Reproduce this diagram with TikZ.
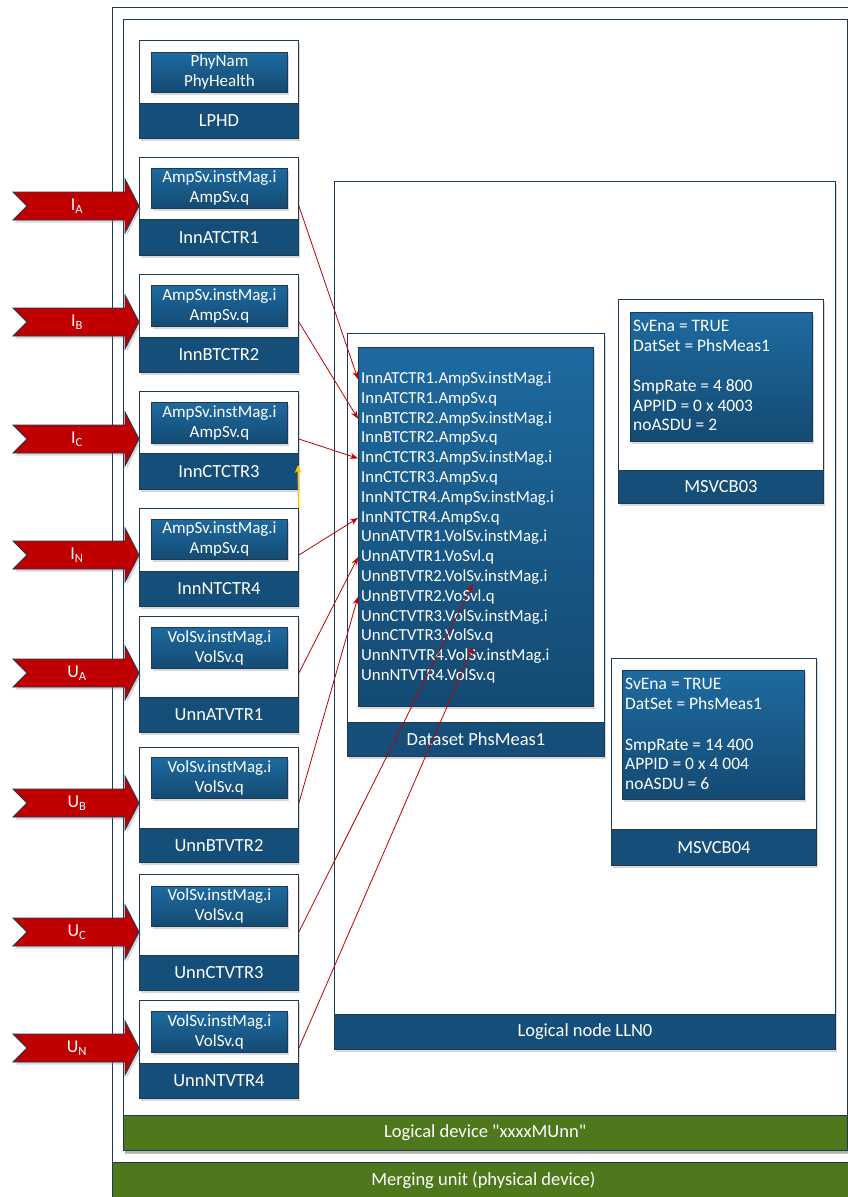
\documentclass[tikz,border=0pt]{standalone}
\usepackage{fontspec}
\setmainfont{Carlito}
\newfontfamily\rawquote{Carlito}[Ligatures=TeXOff]
\usetikzlibrary{shadows,arrows.meta,calc}
\definecolor{lnblue}{HTML}{154E78}
\definecolor{boxtop}{HTML}{1E6AA0}
\definecolor{boxbot}{HTML}{144A72}
\definecolor{edgecol}{HTML}{1D3A55}
\definecolor{mugreen}{HTML}{4F781D}
\definecolor{inred}{HTML}{C00000}
\definecolor{linkred}{HTML}{C00000}
\definecolor{warnyel}{HTML}{FFC000}
\tikzset{
  shd/.style={drop shadow={shadow xshift=2pt,shadow yshift=-2.5pt,opacity=0.3}},
  frame/.style={draw=edgecol, line width=0.9pt, fill=white, shd, inner sep=0pt, anchor=north west},
  bar/.style={draw=edgecol, line width=0.9pt, fill=lnblue, text=white, inner sep=0pt, anchor=north west, font=\fontsize{18.5}{20}\selectfont},
  greenbar/.style={draw=edgecol, line width=0.9pt, fill=mugreen, text=white, inner sep=0pt, anchor=north west, font=\fontsize{18.5}{20}\selectfont},
  inbox/.style={draw=edgecol, line width=0.9pt, top color=boxtop, bottom color=boxbot, text=white, shd, inner sep=0pt, anchor=north west, align=center, font=\fontsize{17}{20}\selectfont},
  dstext/.style={text=white, inner sep=0pt, anchor=base west, font=\fontsize{16.8}{19}\selectfont},
  cbtext/.style={text=white, inner sep=0pt, anchor=base west, font=\fontsize{17.5}{19}\selectfont},
  inarrow/.style={fill=inred, draw=edgecol, line width=0.8pt, shd},
  inlabel/.style={text=white, inner sep=0pt, font=\fontsize{18}{20}\selectfont},
  link/.style={draw=linkred, line width=0.8pt, -{Stealth[length=8pt,width=6pt]}},
  yellink/.style={draw=warnyel, line width=1.3pt, -{Stealth[length=8pt,width=7pt]}},
}
\begin{document}
\begin{tikzpicture}[x=1pt,y=-1pt]
\path[use as bounding box] (0,0) rectangle (848,1197);
% merging unit and logical device
\node[frame, minimum width=742pt, minimum height=1192pt] (mu) at (112,7) {};
\node[greenbar, minimum width=742pt, minimum height=36pt] (mulab) at (112,1162) {Merging unit (physical device)};
\node[frame, minimum width=723.5pt, minimum height=1131pt, drop shadow={shadow xshift=2pt,shadow yshift=-4pt,opacity=0.45}] (ld) at (123,19) {};
\node[greenbar, minimum width=723.5pt, minimum height=35pt] (ldlab) at (123,1115) {Logical device {\rawquote"}xxxxMUnn{\rawquote"}};
% logical node LLN0
\node[frame, minimum width=501pt, minimum height=868pt] (lln0) at (334,181) {};
\node[bar, minimum width=501pt, minimum height=35pt] (lln0lab) at (334,1014) {Logical node LLN0};
% dataset
\node[frame, minimum width=257pt, minimum height=423pt] (ds) at (347,333) {};
\node[bar, minimum width=257pt, minimum height=34pt] (dslab) at (347,722) {Dataset PhsMeas1};
\node[inbox, minimum width=235pt, minimum height=359pt] (dsin) at (358,347) {};
\foreach \t [count=\i] in {InnATCTR1.AmpSv.instMag.i, InnATCTR1.AmpSv.q, InnBTCTR2.AmpSv.instMag.i, InnBTCTR2.AmpSv.q, InnCTCTR3.AmpSv.instMag.i, InnCTCTR3.AmpSv.q, InnNTCTR4.AmpSv.instMag.i, InnNTCTR4.AmpSv.q, UnnATVTR1.VolSv.instMag.i, UnnATVTR1.VoSvl.q, UnnBTVTR2.VolSv.instMag.i, UnnBTVTR2.VoSvl.q, UnnCTVTR3.VolSv.instMag.i, UnnCTVTR3.VolSv.q, UnnNTVTR4.VolSv.instMag.i, UnnNTVTR4.VolSv.q}
  \node[dstext] (l\i) at (361,{378+(\i-1)*19.8+5.5}) {\t};
% MSVCB03
\node[frame, minimum width=205pt, minimum height=204pt] (cb3) at (618,299) {};
\node[bar, minimum width=205pt, minimum height=33pt] (cb3lab) at (618,470) {MSVCB03};
\node[inbox, minimum width=182pt, minimum height=129pt] (cb3in) at (630,312) {};
\foreach \yy/\t [count=\i] in {326/SvEna = TRUE, 346/DatSet = PhsMeas1, 386/SmpRate = 4 800, 406/APPID = 0 x 4003, 425/noASDU = 2}
  \node[cbtext] (cb3t\i) at (633,\yy+5.5) {\t};
% MSVCB04
\node[frame, minimum width=205pt, minimum height=207pt] (cb4) at (611,658) {};
\node[bar, minimum width=205pt, minimum height=36pt] (cb4lab) at (611,829) {MSVCB04};
\node[inbox, minimum width=182pt, minimum height=129pt] (cb4in) at (622,670) {};
\foreach \yy/\t [count=\i] in {684/SvEna = TRUE, 704/DatSet = PhsMeas1, 745/SmpRate = 14 400, 764/APPID = 0 x 4 004, 784/noASDU = 6}
  \node[cbtext] (cb4t\i) at (625,\yy+5.5) {\t};
% logical nodes column
\foreach \nm/\ya/\yb/\yc/\yd/\ye/\la/\lb/\lab in {
  lphd/40/52/92/103/138/PhyNam/PhyHealth/LPHD,
  ia/157/168/208/219/255/AmpSv.instMag.i/AmpSv.q/InnATCTR1,
  ib/274/285/326/337/372/AmpSv.instMag.i/AmpSv.q/InnBTCTR2,
  ic/391/402/443/453/489/AmpSv.instMag.i/AmpSv.q/InnCTCTR3,
  in/508/519/559/571/606/AmpSv.instMag.i/AmpSv.q/InnNTCTR4,
  ua/616/627/668/697/732/VolSv.instMag.i/VolSv.q/UnnATVTR1,
  ub/747/757/798/828/862/VolSv.instMag.i/VolSv.q/UnnBTVTR2,
  uc/874/886/926/955/990/VolSv.instMag.i/VolSv.q/UnnCTVTR3,
  un/1000/1011/1052/1063/1098/VolSv.instMag.i/VolSv.q/UnnNTVTR4}
{
  \node[frame, minimum width=159pt, minimum height={(\ye-\ya)*1pt}] (\nm) at (139,\ya) {};
  \node[bar, minimum width=159pt, minimum height={(\ye-\yd)*1pt}] (\nm-lab) at (139,\yd) {\lab};
  \node[inbox, minimum width=136pt, minimum height={(\yc-\yb)*1pt}] (\nm-in) at (151,\yb) {\la\\\lb};
}
% input arrows
\foreach \nm/\y/\L/\s in {ia/206/I/A, ib/322/I/B, ic/439/I/C, in/555/I/N, ua/673/U/A, ub/803/U/B, uc/932/U/C, un/1048/U/N}
{
  \path[inarrow] (13,\y-14) -- (125,\y-14) -- (125,\y-27) -- (139,\y) -- (125,\y+27) -- (125,\y+14) -- (13,\y+14) -- (27,\y) -- cycle;
  \node[inlabel] (in-\nm) at (77,\y) {\L\textsubscript{\s}};
}
% connectors
\coordinate (ucend) at (473,584);
\coordinate (unend) at (473,647);
\coordinate (yeltip) at (298,465);
\draw[link] (ia.east |- in-ia) -- (dsin.west |- l1.west);
\draw[link] (ib.east |- in-ib) -- (dsin.west |- l3.west);
\draw[link] (ic.east |- in-ic) -- (dsin.west |- l5.west);
\draw[link] (in.east |- in-in) -- (dsin.west |- l8.west);
\draw[link] (ua.east |- in-ua) -- (dsin.west |- l10.west);
\draw[link] (ub.east |- in-ub) -- (dsin.west |- l12.west);
\draw[link] (uc.east |- in-uc) -- (ucend);
\draw[link] (un.east |- in-un) -- (unend);
\draw[yellink] (in.north east) -- (yeltip);
\end{tikzpicture}
\end{document}
